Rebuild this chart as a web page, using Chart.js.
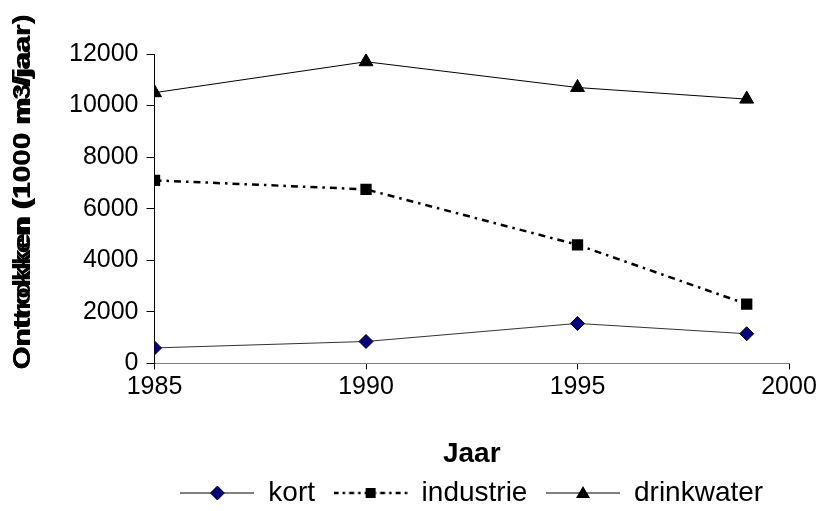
<!DOCTYPE html>
<html>
<head>
<meta charset="utf-8">
<script src="https://cdn.jsdelivr.net/npm/chart.js@4/dist/chart.umd.min.js"></script>
<style>
  html, body { margin: 0; padding: 0; background: #fff; }
  #wrap { width: 820px; height: 511px; }
</style>
</head>
<body>
<div id="wrap"><canvas id="grafiek" width="820" height="511"></canvas></div>
<script>
// --- Data ---
const jaren      = [1985, 1990, 1995, 1999];
const kort       = [600, 850, 1550, 1150];
const industrie  = [7100, 6750, 4600, 2300];
const drinkwater = [10500, 11700, 10700, 10250];
const xTicks     = [1985, 1990, 1995, 2000];
const yTitels    = ['Onttrokken (1000 m3/jaar)', 'Ontrokken (1000 m³/jaar)'];

const punten = arr => jaren.map((j, i) => ({ x: j, y: arr[i] }));

// legend symbool: lijntje met marker in het midden
const ICOON_B = 74;
function legendIcoon(dash, teken) {
  const c = document.createElement('canvas');
  c.width = ICOON_B; c.height = 20;
  const g = c.getContext('2d');
  const m = ICOON_B / 2;
  g.strokeStyle = '#000'; g.lineWidth = dash.length ? 2.5 : 1;
  g.setLineDash(dash);
  g.beginPath(); g.moveTo(0, 10); g.lineTo(ICOON_B, 10); g.stroke();
  g.setLineDash([]);
  g.fillStyle = '#000';
  g.beginPath();
  if (teken === 'ruit') {
    g.fillStyle = '#000080';
    g.moveTo(m, 3); g.lineTo(m + 7, 10); g.lineTo(m, 17); g.lineTo(m - 7, 10); g.closePath();
    g.fill(); g.lineWidth = 1; g.stroke();
  } else if (teken === 'vierkant') {
    g.rect(m - 5, 5, 10, 10); g.fill();
  } else {
    g.moveTo(m, 3); g.lineTo(m + 7, 15); g.lineTo(m - 7, 15); g.closePath(); g.fill();
  }
  return c;
}

// --- Y-as titel (twee overlappende teksten, zoals in het origineel) ---
const yTitelPlugin = {
  id: 'yTitel',
  afterDraw(chart) {
    const ctx = chart.ctx;
    ctx.save();
    ctx.translate(23, 192);
    ctx.rotate(-Math.PI / 2);
    ctx.font = 'bold 24px "Liberation Sans", Arial, sans-serif';
    ctx.fillStyle = '#000';
    ctx.textAlign = 'center';
    ctx.textBaseline = 'middle';
    yTitels.forEach(t => {
      const w = ctx.measureText(t).width;
      ctx.save();
      ctx.scale(355 / w, 1);
      ctx.fillText(t, 0, 0);
      ctx.restore();
    });
    ctx.restore();
  }
};

const font = { family: '"Liberation Sans", Arial, sans-serif', size: 25 };
const groot = { family: '"Liberation Sans", Arial, sans-serif', size: 28 };

new Chart(document.getElementById('grafiek'), {
  type: 'scatter',
  data: {
    datasets: [
      { label: 'kort', data: punten(kort), showLine: true,
        borderColor: '#333', borderWidth: 1,
        pointStyle: 'rectRot', pointRadius: 7, pointBackgroundColor: '#000080',
        pointBorderColor: '#000', pointBorderWidth: 1, icoon: legendIcoon([], 'ruit') },
      { label: 'industrie', data: punten(industrie), showLine: true,
        borderColor: '#000', borderWidth: 2.5, borderDash: [7, 5, 2.5, 5],
        pointStyle: 'rect', pointRadius: 8, pointBackgroundColor: '#000',
        pointBorderColor: '#000', pointBorderWidth: 0, icoon: legendIcoon([5, 4, 2.5, 4], 'vierkant') },
      { label: 'drinkwater', data: punten(drinkwater), showLine: true,
        borderColor: '#000', borderWidth: 1,
        pointStyle: 'triangle', pointRadius: 8, pointBackgroundColor: '#000',
        pointBorderColor: '#000', icoon: legendIcoon([], 'driehoek') }
    ]
  },
  options: {
    responsive: false,
    animation: false,
    layout: { padding: { left: 61, right: 31, top: 54, bottom: -6 } },
    plugins: {
      tooltip: { enabled: false },
      legend: {
        position: 'bottom',
        fullSize: false,
        labels: {
          color: '#000', font: groot, usePointStyle: true, pointStyleWidth: ICOON_B, padding: 3,
          // extra ruimte tussen de items via spaties achter de tekst
          generateLabels: chart => chart.data.datasets.map((d, i, all) => ({
            text: i < all.length - 1 ? d.label + '  ' : d.label,
            pointStyle: d.icoon, datasetIndex: i,
            fillStyle: '#000', strokeStyle: '#000', lineWidth: 0, fontColor: '#000'
          }))
        }
      }
    },
    scales: {
      x: {
        type: 'linear', min: 1985, max: 2000,
        afterBuildTicks: ax => { ax.ticks = xTicks.map(v => ({ value: v })); },
        ticks: { color: '#000', font, padding: 3, maxRotation: 0, callback: v => String(v) },
        grid: { drawOnChartArea: false, drawTicks: true, tickLength: 6, color: '#000' },
        border: { color: '#808080', width: 1 },
        title: { display: true, text: 'Jaar', color: '#000',
                 font: { ...groot, weight: 'bold' }, padding: { top: 32, bottom: 5 } }
      },
      y: {
        min: 0, max: 12000,
        ticks: { stepSize: 2000, color: '#000', font, padding: 8, callback: v => String(v) },
        grid: { drawOnChartArea: false, drawTicks: true, tickLength: 8, color: '#000' },
        border: { color: '#000', width: 1 }
      }
    }
  },
  plugins: [yTitelPlugin]
});
</script>
</body>
</html>
